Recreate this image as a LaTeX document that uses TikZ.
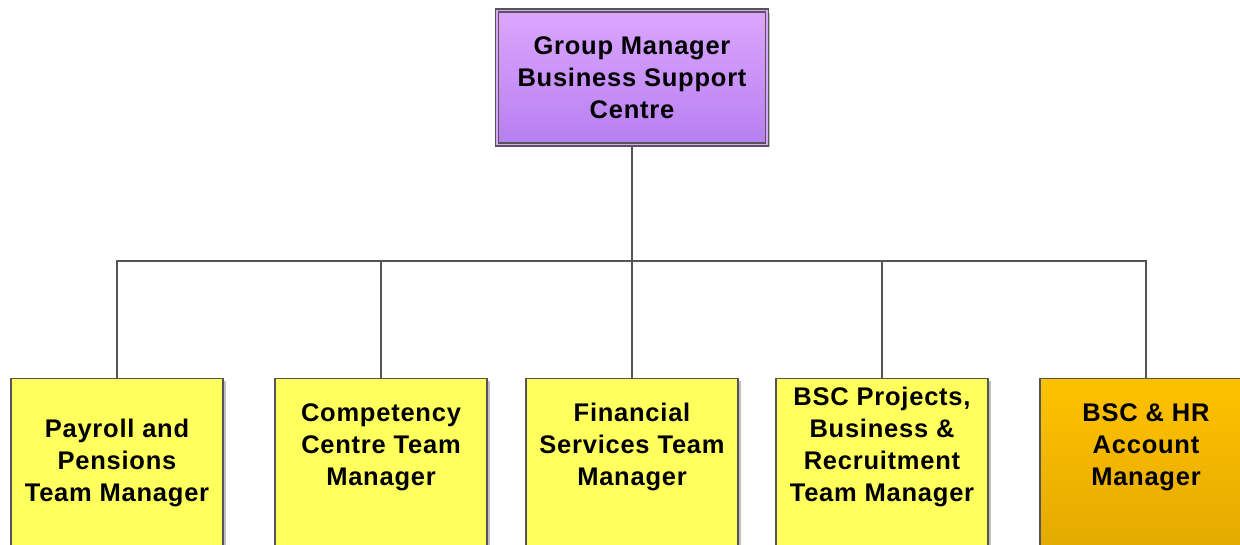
\documentclass[tikz,border=0pt]{standalone}
\usepackage{fontspec}
\setmainfont{Liberation Sans}[LetterSpace=3]
\usetikzlibrary{shadows}
\definecolor{linegray}{HTML}{555555}
\definecolor{yel}{HTML}{FFFF5E}
\definecolor{orgtop}{HTML}{FFC200}
\definecolor{orgbot}{HTML}{DFA500}
\definecolor{purtop}{HTML}{DCA6FF}
\definecolor{purbot}{HTML}{B67FF0}
\tikzset{
  lbl/.style={font=\fontsize{25.5}{32}\selectfont\bfseries, align=center},
  box/.style={draw=linegray, line width=1.2pt, minimum width=212pt, minimum height=200pt, anchor=north,
    drop shadow={shadow xshift=2.5pt, shadow yshift=-2.5pt, fill=black!35, opacity=0.7}},
  yelbox/.style={box, fill=yel},
  orgbox/.style={box, top color=orgtop, bottom color=orgbot},
  topbox/.style={lbl, draw=linegray, line width=1.3pt, double=purtop, double distance=1.6pt,
    minimum width=270pt, minimum height=134pt,
    top color=purtop, bottom color=purbot,
    drop shadow={shadow xshift=2.5pt, shadow yshift=-2.5pt, fill=black!35, opacity=0.7}},
  conn/.style={draw=linegray, line width=1.2pt}
}
\begin{document}
\begin{tikzpicture}[x=1pt,y=-1pt]
\useasboundingbox (0,0) rectangle (1240,544);
\clip (0,0) rectangle (1240,544);
\fill[white] (0,0) rectangle (1240,544);
\node[topbox] (top) at (632,77.5) {Group Manager\\Business Support\\Centre};
\coordinate (bus) at (632,261);
\node[yelbox] (b1) at (117,378) {};
\node[yelbox] (b2) at (381,378) {};
\node[yelbox] (b3) at (632,378) {};
\node[yelbox] (b4) at (882,378) {};
\node[orgbox] (b5) at (1146,378) {};
\node[lbl] (t1) at (117,463) {Payroll and\\Pensions\\Team Manager};
\node[lbl] (t2) at (381,447) {Competency\\Centre Team\\Manager};
\node[lbl] (t3) at (632,447) {Financial\\Services Team\\Manager};
\node[lbl] (t4) at (882,447) {BSC Projects,\\Business \&\\Recruitment\\Team Manager};
\node[lbl] (t5) at (1146,447) {BSC \& HR\\Account\\Manager};
\draw[conn] (top.south) -- (bus);
\draw[conn] (b1.north) |- (bus) -| (b5.north);
\draw[conn] (b2.north) -- (b2.north |- bus);
\draw[conn] (b3.north) -- (bus);
\draw[conn] (b4.north) -- (b4.north |- bus);
\end{tikzpicture}
\end{document}
